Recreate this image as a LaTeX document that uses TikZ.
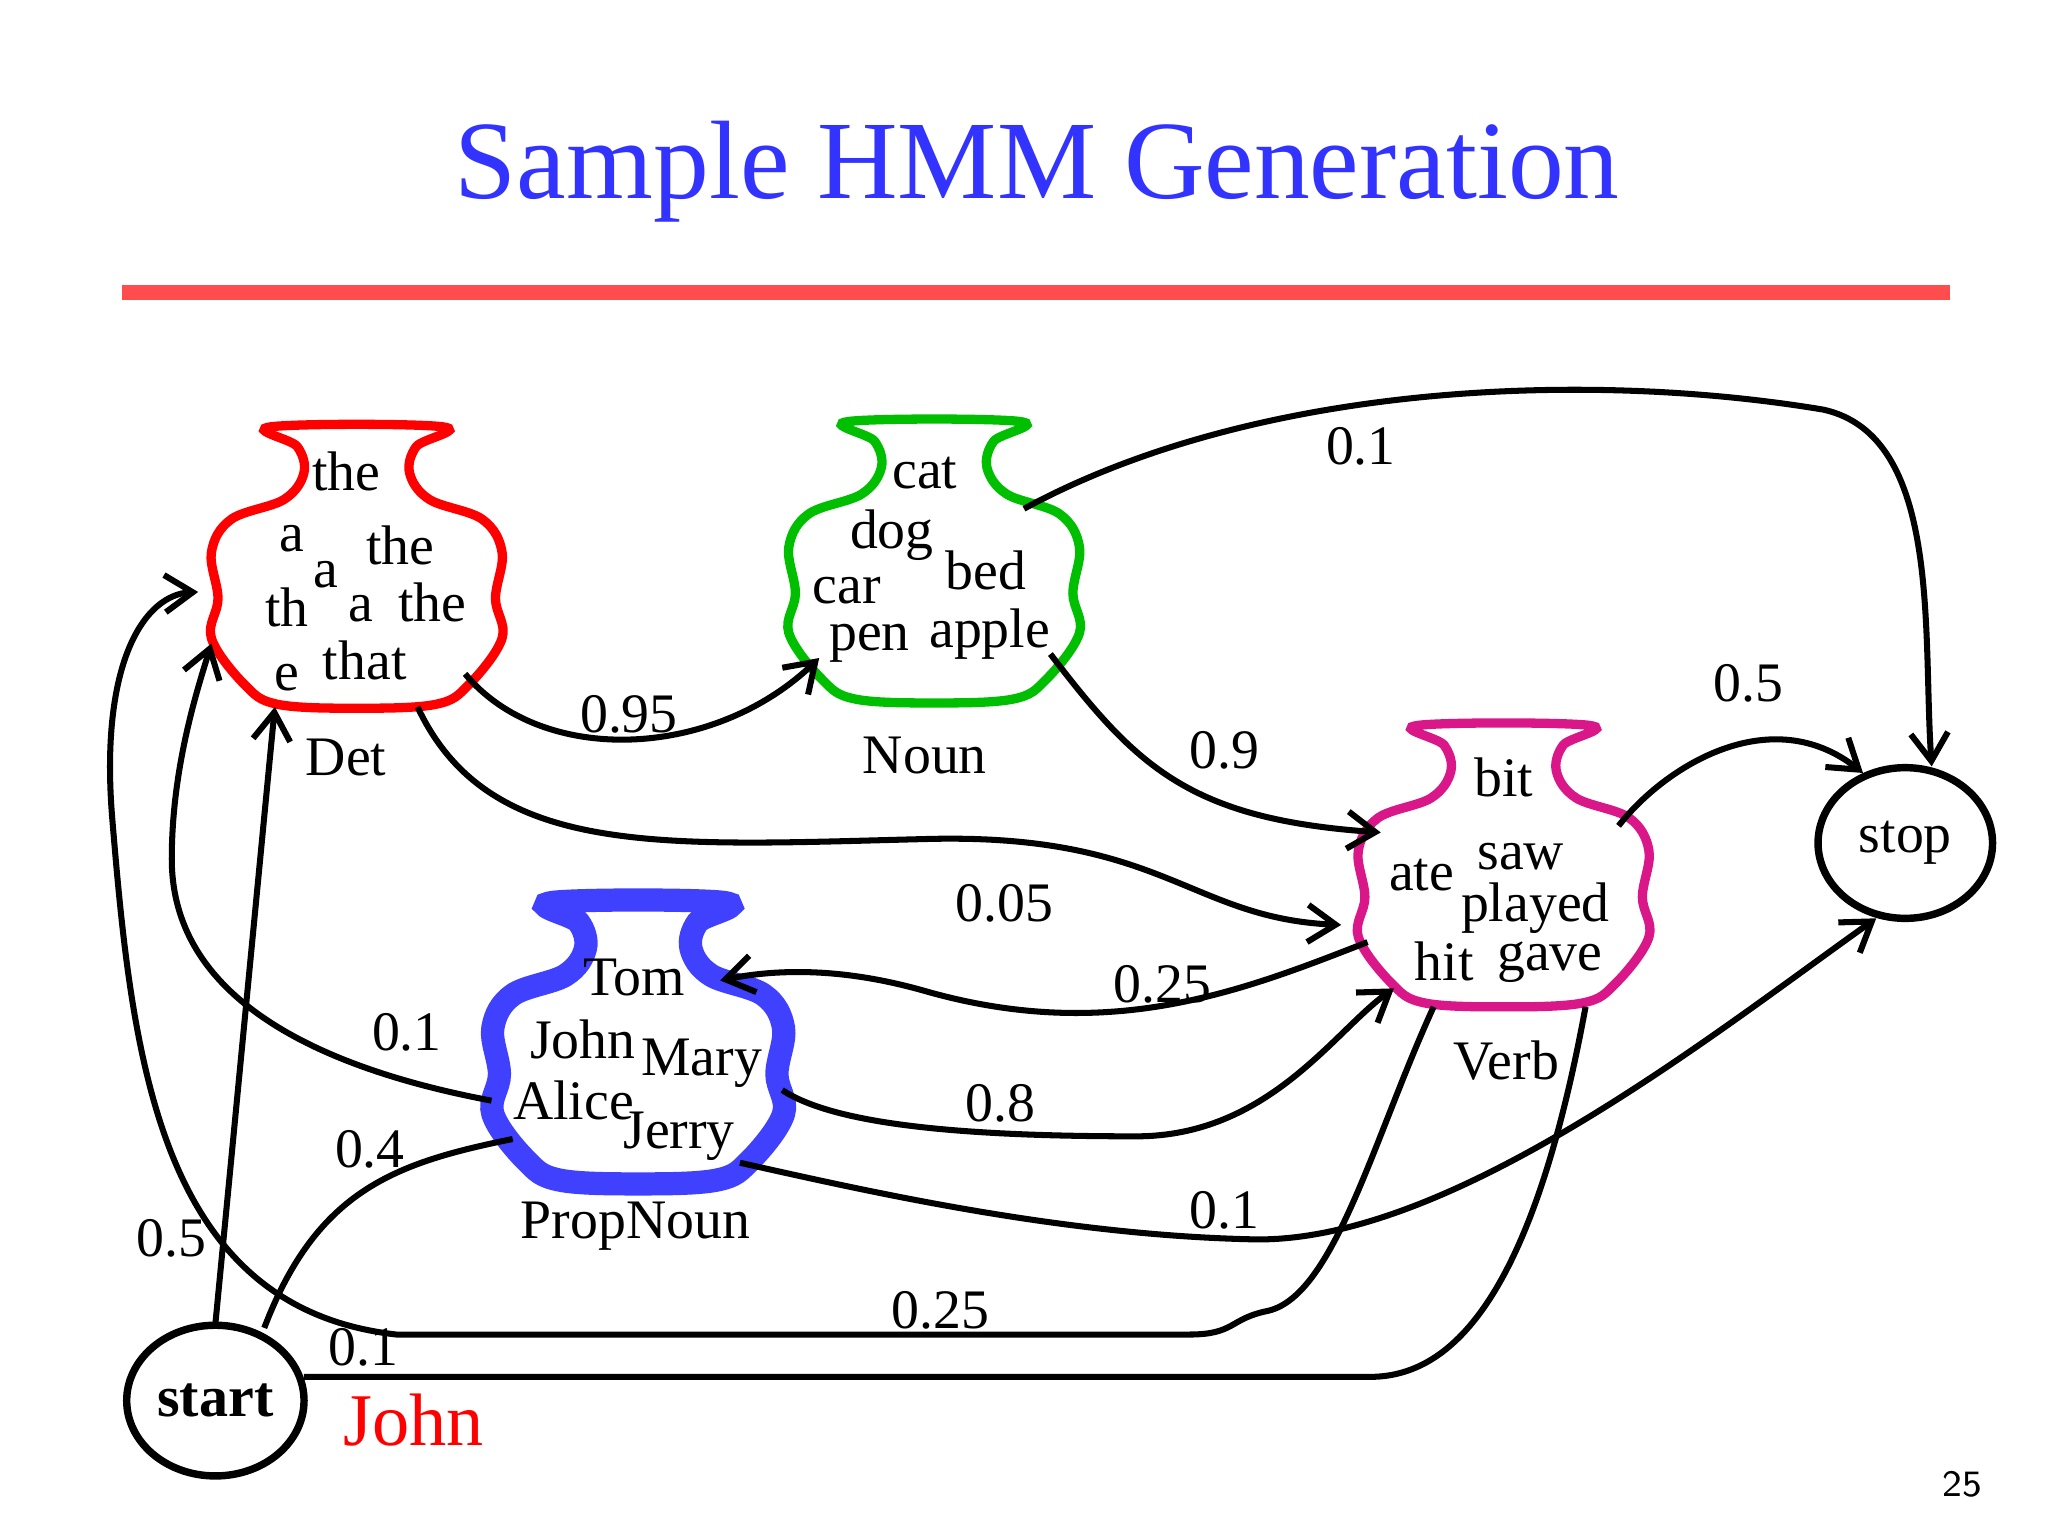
\documentclass[tikz,border=0pt]{standalone}
\usepackage{fontspec}
\setmainfont{Liberation Serif}
\usetikzlibrary{arrows.meta,shapes.geometric}
\begin{document}
\begin{tikzpicture}[x=0.01cm,y=-0.01cm,
  lbl/.style={font=\fontsize{12}{14}\selectfont},
  word/.style={font=\fontsize{12}{14}\selectfont,inner sep=0pt},
  edge/.style={line width=1.3pt,-{Straight Barb[length=6pt,width=8pt]}},
  plain/.style={line width=1.3pt},
  vase/.pic={\draw[pic actions] plot[smooth cycle,tension=0.6] coordinates{(65,-105)(45,-90)(40,-70)(55,-50)(95,-35)(110,-10)(105,25)(110,55)(85,90)(60,105)(0,108)(-60,105)(-85,90)(-110,55)(-105,25)(-110,-10)(-95,-35)(-55,-50)(-40,-70)(-45,-90)(-65,-105)};}]
\useasboundingbox (0,0) rectangle (1550,1162);
\node[text=blue!80!white,font=\fontsize{24}{28}\selectfont] (title) at (785,130) {Sample HMM Generation};
\fill[red!70!white] (92,216) rectangle (1476,227);
\node[font=\sffamily\fontsize{8}{9}\selectfont] (pg) at (1485,1123) {25};
% vases
\pic[draw=red,line width=2pt] at (270,428) {vase};
\pic[draw=green!75!black,line width=2pt] at (707,424) {vase};
\pic[draw=magenta!80!violet,line width=2pt] at (1138,654) {vase};
\pic[draw=blue!75!white,line width=5pt] at (483,788) {vase};
% words
\node[word] (w1) at (262,357) {the};
\node[word] (w2) at (221,408) {a};
\node[word] (w3) at (303,413) {the};
\node[word] (w4) at (247,435) {a};
\node[word] (w5) at (217,460) {th};
\node[word] (w6) at (273,461) {a};
\node[word] (w7) at (327,456) {the};
\node[word] (w8) at (217,513) {e};
\node[word] (w9) at (276,500) {that};
\node[word] (n1) at (700,358) {cat};
\node[word] (n2) at (675,405) {dog};
\node[word] (n3) at (746,432) {bed};
\node[word] (n4) at (641,447) {car};
\node[word] (n5) at (658,487) {pen};
\node[word] (n6) at (749,480) {apple};
\node[word] (v1) at (1138,588) {bit};
\node[word] (v2) at (1151,648) {saw};
\node[word] (v3) at (1076,662) {ate};
\node[word] (v4) at (1162,687) {played};
\node[word] (v5) at (1093,728) {hit};
\node[word] (v6) at (1173,728) {gave};
\node[word] (p1) at (480,740) {Tom};
\node[word] (p2) at (441,787) {John};
\node[word] (p3) at (531,805) {Mary};
\node[word] (p4) at (434,833) {Alice};
\node[word] (p5) at (514,860) {Jerry};
% labels
\node[lbl] (ldet) at (262,573) {Det};
\node[lbl] (lnoun) at (700,572) {Noun};
\node[lbl] (lverb) at (1140,803) {Verb};
\node[lbl] (lprop) at (481,928) {PropNoun};
\node[draw,line width=1.6pt,ellipse,minimum width=1.32cm,minimum height=1.14cm,inner sep=1pt,font=\bfseries\fontsize{12.5}{15}\selectfont] (start) at (163,1060) {start};
\node[draw,line width=1.6pt,ellipse,minimum width=1.32cm,minimum height=1.14cm,inner sep=1pt,lbl] (stop) at (1442,638) {stop};
\node[text=red,font=\fontsize{16}{20}\selectfont] (john) at (313,1075) {John};
% anchor coordinates
\coordinate (detR) at (352,510); \coordinate (detB) at (316,535);
\coordinate (detL) at (150,448); \coordinate (detL2) at (160,487); \coordinate (detBot) at (208,535);
\coordinate (nounBL) at (620,498); \coordinate (nounR) at (795,495); \coordinate (nounT) at (775,385);
\coordinate (verbTL) at (1045,630); \coordinate (verbL) at (1015,700); \coordinate (verbL2) at (1035,713);
\coordinate (verbBL) at (1055,748); \coordinate (verbR) at (1225,625); \coordinate (verbB1) at (1085,762); \coordinate (verbB2) at (1200,762);
\coordinate (propR) at (545,742); \coordinate (propR2) at (592,825); \coordinate (propB) at (560,880);
\coordinate (propL) at (372,833); \coordinate (propL2) at (388,862);
\coordinate (stopT) at (1462,580); \coordinate (stopL) at (1410,585); \coordinate (stopB) at (1420,695);
\coordinate (startT) at (163,1002); \coordinate (startT2) at (200,1005); \coordinate (startR) at (230,1042);
% edges
\draw[edge] (detR) .. controls (410,580) and (540,575) .. (nounBL);
\draw[edge] (detB) .. controls (370,650) and (500,640) .. (700,635) .. controls (880,630) and (900,695) .. (verbL);
\draw[edge] (nounR) .. controls (860,580) and (900,620) .. (verbTL);
\draw[edge] (nounT) .. controls (950,290) and (1200,280) .. (1380,310) .. controls (1470,330) and (1455,480) .. (stopT);
\draw[edge] (verbR) .. controls (1260,580) and (1340,530) .. (stopL);
\draw[edge] (verbL2) .. controls (940,750) and (840,790) .. (700,750) .. controls (630,730) and (580,735) .. (propR);
\draw[edge] (propR2) .. controls (630,850) and (720,860) .. (860,860) .. controls (960,860) and (1010,780) .. (verbBL);
\draw[edge] (propB) .. controls (650,900) and (800,935) .. (950,938) .. controls (1100,940) and (1300,780) .. (stopB);
\draw[edge] (propL) .. controls (250,810) and (130,760) .. (130,650) .. controls (130,580) and (150,520) .. (detL2);
\draw[edge] (startT) -- (detBot);
\draw[plain] (startT2) .. controls (240,900) and (300,880) .. (propL2);
\draw[plain] (startR) -- (1040,1042) .. controls (1100,1040) and (1160,980) .. (verbB2);
\draw[edge] (verbB1) .. controls (1040,860) and (1010,980) .. (960,992) .. controls (930,998) and (935,1010) .. (900,1010) -- (300,1010) .. controls (120,990) and (100,800) .. (85,620) .. controls (75,500) and (110,450) .. (detL);
% edge labels
\node[lbl] (e1) at (476,541) {0.95};
\node[lbl] (e2) at (760,684) {0.05};
\node[lbl] (e3) at (927,568) {0.9};
\node[lbl] (e4) at (1030,338) {0.1};
\node[lbl] (e5) at (1323,517) {0.5};
\node[lbl] (e6) at (880,745) {0.25};
\node[lbl] (e7) at (757,835) {0.8};
\node[lbl] (e8) at (927,916) {0.1};
\node[lbl] (e9) at (308,781) {0.1};
\node[lbl] (e10) at (130,937) {0.5};
\node[lbl] (e11) at (280,870) {0.4};
\node[lbl] (e12) at (275,1020) {0.1};
\node[lbl] (e13) at (712,992) {0.25};
\end{tikzpicture}
\end{document}
